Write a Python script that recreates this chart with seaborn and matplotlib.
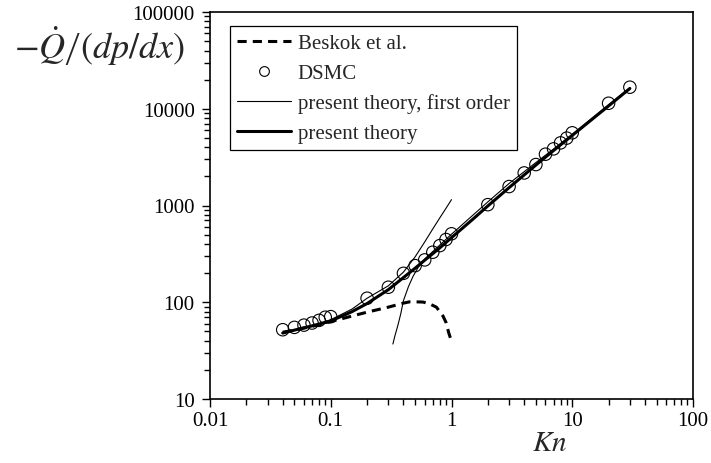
import numpy as np
import pandas as pd
import matplotlib
matplotlib.use("Agg")
import matplotlib.pyplot as plt
import seaborn as sns
from matplotlib.ticker import FixedLocator, LogLocator, NullFormatter, FuncFormatter
from matplotlib.lines import Line2D

# ---- data ----
dsmc_kn = [0.04, 0.05, 0.06, 0.07, 0.08, 0.09, 0.1, 0.2, 0.3, 0.4, 0.5, 0.6, 0.7,
           0.8, 0.9, 1.0, 2, 3, 4, 5, 6, 7, 8, 9, 10, 20, 30]
dsmc_q = [52, 55, 58, 61, 65, 70, 71, 110, 143, 199, 239, 274, 329,
          385, 445, 510, 1020, 1570, 2170, 2650, 3390, 3850, 4440, 4970, 5640, 11400, 16700]

theory_kn = [0.04, 0.05, 0.06, 0.07, 0.08, 0.1, 0.15, 0.2, 0.3, 0.4, 0.5, 0.6, 0.7,
             0.8, 1.0, 1.5, 2, 3, 5, 7, 10, 15, 20, 30]
theory_q = [48, 51.5, 54.5, 57, 59.5, 64, 80, 97, 135, 180, 225, 272, 318,
            365, 465, 720, 990, 1530, 2620, 3700, 5300, 8000, 10700, 16200]

first_small_kn = [0.04, 0.06, 0.08, 0.1, 0.15, 0.2, 0.3, 0.4, 0.5, 0.6, 0.7, 0.8, 0.9, 1.0]
first_small_q = [48, 54.5, 60, 66, 85, 110, 148, 205, 295, 420, 573, 745, 935, 1150]

first_large_kn = [0.327, 0.34, 0.36, 0.38, 0.4, 0.44, 0.48, 0.53, 0.6, 0.8, 1.0, 2, 3, 5, 7, 10, 20, 30]
first_large_q = [37, 45, 58, 76, 104, 145, 185, 230, 280, 390, 505, 1090, 1690, 2780, 3830, 5450, 11000, 16500]

beskok_kn = [0.04, 0.06, 0.08, 0.1, 0.15, 0.2, 0.3, 0.4, 0.45, 0.5, 0.58, 0.65, 0.75,
             0.85, 0.9, 0.95, 1.0]
beskok_q = [49, 54, 58.5, 63, 72, 79, 89, 98, 101, 101, 100.5, 97, 89,
            72, 62, 48, 39.5]

xticks = [0.01, 0.1, 1, 10, 100]
yticks = [10, 100, 1000, 10000, 100000]

# ---- style ----
sns.set_style("ticks")
plt.rcParams['font.family'] = ['Liberation Serif', 'DejaVu Serif']
plt.rcParams['mathtext.fontset'] = 'stix'

W, H = 711, 464
fig = plt.figure(figsize=(W / 100, H / 100), dpi=100)
ax = fig.add_axes([210 / W, 1 - 400 / H, (693 - 210) / W, (400 - 13) / H])

df_theory = pd.DataFrame({"Kn": theory_kn, "Q": theory_q})
df_fs = pd.DataFrame({"Kn": first_small_kn, "Q": first_small_q})
df_fl = pd.DataFrame({"Kn": first_large_kn, "Q": first_large_q})
df_b = pd.DataFrame({"Kn": beskok_kn, "Q": beskok_q})
df_d = pd.DataFrame({"Kn": dsmc_kn, "Q": dsmc_q})

ax.set_xscale('log')
ax.set_yscale('log')

sns.lineplot(data=df_b, x="Kn", y="Q", ax=ax, color='black', lw=2.2,
             sort=False, estimator=None, linestyle=(0, (3, 2)))
sns.lineplot(data=df_fs, x="Kn", y="Q", ax=ax, color='black', lw=0.8, sort=False, estimator=None)
sns.lineplot(data=df_fl, x="Kn", y="Q", ax=ax, color='black', lw=0.8, sort=False, estimator=None)
sns.lineplot(data=df_theory, x="Kn", y="Q", ax=ax, color='black', lw=2.2, sort=False, estimator=None)
sns.scatterplot(data=df_d, x="Kn", y="Q", ax=ax, marker='o', s=80,
                facecolor='none', edgecolor='black', linewidth=0.8, zorder=5)

ax.set_xlim(0.01, 100)
ax.set_ylim(10, 100000)
ax.set_xlabel("")
ax.set_ylabel("")

ax.xaxis.set_major_locator(FixedLocator(xticks))
ax.yaxis.set_major_locator(FixedLocator(yticks))
ax.xaxis.set_minor_locator(LogLocator(base=10, subs=np.arange(2, 10)))
ax.yaxis.set_minor_locator(LogLocator(base=10, subs=np.arange(2, 10)))
ax.xaxis.set_minor_formatter(NullFormatter())
ax.yaxis.set_minor_formatter(NullFormatter())
fmt = FuncFormatter(lambda v, p: ('%g' % v) if v < 1 else '%d' % int(round(v)))
ax.xaxis.set_major_formatter(fmt)
ax.yaxis.set_major_formatter(fmt)

for s in ax.spines.values():
    s.set_linewidth(1.2)
    s.set_color('black')
ax.tick_params(which='both', direction='out', top=False, right=False,
               color='black', width=1.0, labelsize=15, labelcolor='black')
ax.tick_params(which='major', length=6)
ax.tick_params(axis='x', which='major', pad=3)
ax.tick_params(axis='y', which='major', pad=5)
ax.tick_params(which='minor', length=4)

handles = [
    Line2D([], [], color='black', lw=2.2, linestyle=(0, (3, 2))),
    Line2D([], [], color='black', lw=0, marker='o', markerfacecolor='none',
           markeredgecolor='black', markersize=7, markeredgewidth=0.8),
    Line2D([], [], color='black', lw=0.8),
    Line2D([], [], color='black', lw=2.2),
]
labels = ["Beskok et al.", "DSMC", "present theory, first order", "present theory"]
leg = ax.legend(handles, labels, loc='upper left', bbox_to_anchor=(0.041, 0.964),
                frameon=True, fancybox=False, shadow=False, fontsize=15,
                handlelength=2.6, handletextpad=0.3, labelspacing=0.5,
                borderpad=0.35, borderaxespad=0)
leg.get_frame().set_edgecolor('black')
leg.get_frame().set_linewidth(0.9)
leg.get_frame().set_alpha(1)

fig.text(14 / W, 1 - 46 / H, r'$-\dot{Q}\left/\left(dp/dx\right)\right.$', fontsize=26,
         ha='left', va='center')
fig.text(550 / W, 1 - 444 / H, r'$Kn$', fontsize=21, ha='center', va='center')

fig.savefig("out.png", dpi=100, facecolor='white')
